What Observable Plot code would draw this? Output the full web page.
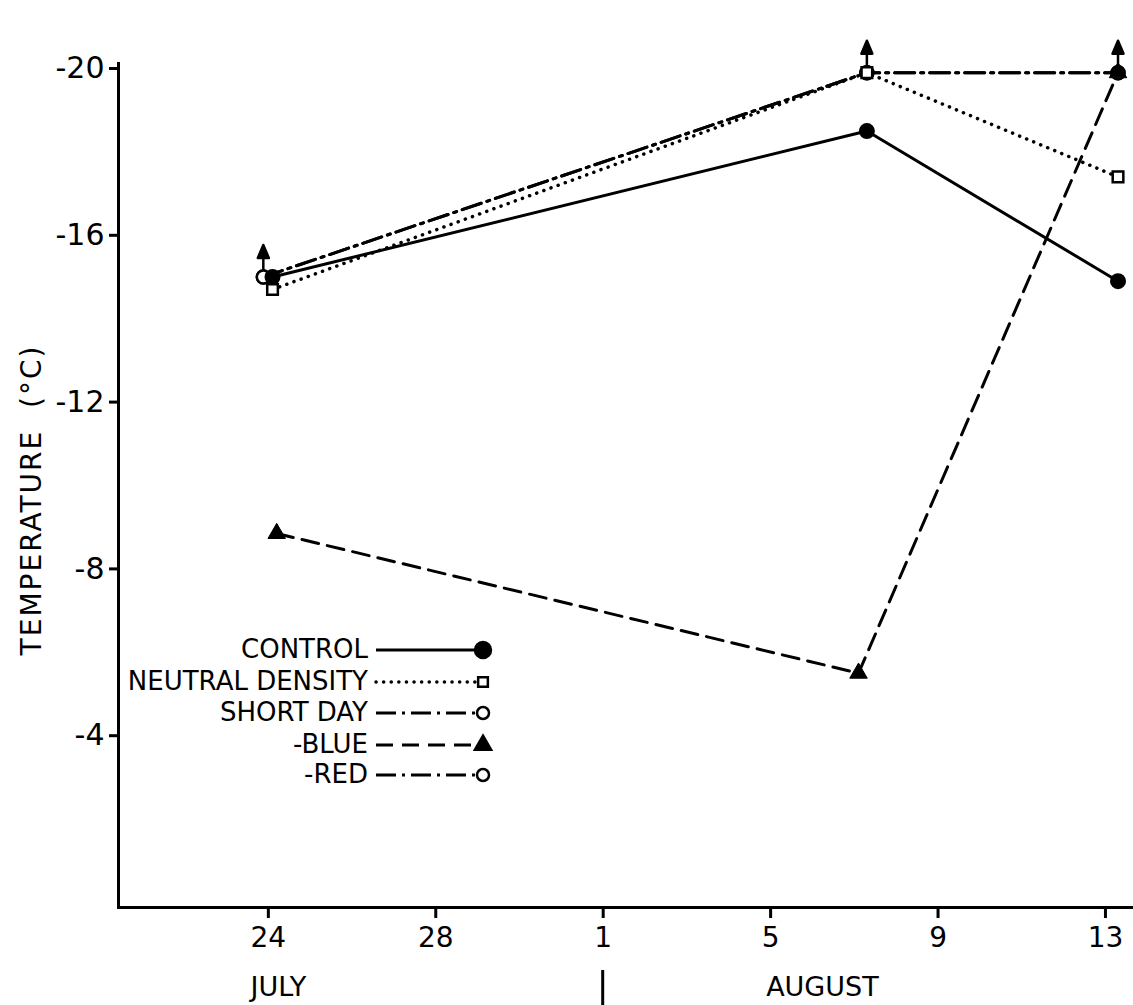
<!DOCTYPE html>
<html><head><meta charset="utf-8">
<script src="https://cdn.jsdelivr.net/npm/d3@7"></script>
<script src="https://cdn.jsdelivr.net/npm/@observablehq/plot@0.6"></script>
<style>body{margin:0;background:#fff}svg{display:block}</style>
</head><body><div id="chart"></div>
<script>
// Days counted from 24 July (0) ; temperatures in °C
const seriesNames = ["CONTROL", "NEUTRAL DENSITY", "SHORT DAY", "-BLUE", "-RED"];
const controlDays = [0.1, 14.3, 20.3];
const controlTemps = [-15.0, -18.5, -14.9];
const neutralDays = [0.1, 14.3, 20.3];
const neutralTemps = [-14.7, -19.9, -17.4];
const shortDayDays = [-0.12, 14.3, 20.3];
const shortDayTemps = [-15.0, -19.9, -19.9];
const blueDays = [0.2, 14.1, 20.3];
const blueTemps = [-8.85, -5.5, -19.9];
const redDays = [-0.12, 14.3, 20.3];
const redTemps = [-15.0, -19.9, -19.9];
// "colder than" arrows
const arrowDays = [-0.12, 14.3, 20.3];
const arrowTemps = [-15.0, -19.9, -19.9];

const xTickDays = [0, 4, 8, 12, 16, 20];
const xTickLabels = ["24", "28", "1", "5", "9", "13"];
const yTickValues = [-20, -16, -12, -8, -4];
const yTickLabels = ["-20", "-16", "-12", "-8", "-4"];
const monthNames = ["JULY", "AUGUST"];
const monthLabelDays = [0.25, 13.25];
const monthBoundaryDay = 8;

const rows = (xs, ys) => xs.map((x, i) => ({day: x, temp: ys[i]}));
const control = rows(controlDays, controlTemps);
const neutral = rows(neutralDays, neutralTemps);
const shortDay = rows(shortDayDays, shortDayTemps);
const blue = rows(blueDays, blueTemps);
const red = rows(redDays, redTemps);
const arrows = rows(arrowDays, arrowTemps);

const FONT = "'DejaVu Sans', sans-serif";
const DOT = "0.1 7.5";
const DASHDOT = "20 6 3 6";
const DASH = "17 9";

const arrowShape = {
  draw(context, l) {
    context.moveTo(0, 0);
    context.lineTo(0, -l + 10);
    context.moveTo(-5.5, -l + 13);
    context.lineTo(0, -l);
    context.lineTo(5.5, -l + 13);
    context.closePath();
  }
};

const plot = Plot.plot({
  width: 1133,
  height: 1005,
  marginLeft: 118,
  marginRight: 0,
  marginTop: 63,
  marginBottom: 98,
  style: {fontFamily: FONT, color: "black", background: "white", overflow: "visible"},
  x: {domain: [-3.58, 20.67]},
  y: {domain: [0.12, -20.12]},
  marks: [
    Plot.frame({anchor: "left", strokeWidth: 3}),
    Plot.frame({anchor: "bottom", strokeWidth: 3}),
    Plot.axisX({ticks: xTickDays, tickFormat: d => xTickLabels[xTickDays.indexOf(d)],
      tickSize: 11, tickPadding: 9, fontSize: 28, strokeWidth: 3, label: null}),
    Plot.axisY({ticks: yTickValues, tickFormat: d => yTickLabels[yTickValues.indexOf(d)],
      tickSize: 9, tickPadding: 5, fontSize: 30, strokeWidth: 3, label: null}),
    Plot.line(control, {x: "day", y: "temp", stroke: "black", strokeWidth: 3}),
    Plot.line(neutral, {x: "day", y: "temp", stroke: "black", strokeWidth: 3.5, strokeDasharray: DOT, strokeLinecap: "round"}),
    Plot.line(shortDay, {x: "day", y: "temp", stroke: "black", strokeWidth: 3, strokeDasharray: DASHDOT}),
    Plot.line(red, {x: "day", y: "temp", stroke: "black", strokeWidth: 3, strokeDasharray: DASHDOT}),
    Plot.line(blue, {x: "day", y: "temp", stroke: "black", strokeWidth: 3, strokeDasharray: DASH}),
    Plot.vector(arrows, {x: "day", y: "temp", length: 32, rotate: 0, anchor: "start", shape: arrowShape,
      stroke: "black", fill: "black", strokeWidth: 2.5}),
    Plot.dot(shortDay, {x: "day", y: "temp", r: 6.5, fill: "white", stroke: "black", strokeWidth: 2.5}),
    Plot.dot(red, {x: "day", y: "temp", r: 6.5, fill: "white", stroke: "black", strokeWidth: 2.5}),
    Plot.dot(neutral, {x: "day", y: "temp", symbol: "square", r: 6, fill: "white", stroke: "black", strokeWidth: 2.5}),
    Plot.dot(blue, {x: "day", y: "temp", symbol: "triangle", r: 6.5, fill: "black", stroke: "black", strokeWidth: 1}),
    Plot.dot(control, {x: "day", y: "temp", r: 8, fill: "black"})
  ]
});

const svg = d3.select(plot);
const xs = plot.scale("x");

// y-axis title
svg.append("text")
  .attr("transform", "translate(33,500) rotate(-90)")
  .attr("text-anchor", "middle")
  .attr("dominant-baseline", "middle")
  .attr("font-size", 28)
  .attr("letter-spacing", 2)
  .attr("font-family", FONT)
  .attr("fill", "black")
  .text("TEMPERATURE\u00a0\u00a0(°C)");

// month labels and boundary bar
monthNames.forEach((m, i) => {
  svg.append("text")
    .attr("x", xs.apply(monthLabelDays[i]))
    .attr("y", 988)
    .attr("text-anchor", "middle")
    .attr("dominant-baseline", "middle")
    .attr("font-size", 27)
    .attr("font-family", FONT)
    .attr("fill", "black")
    .text(m);
});
svg.append("line")
  .attr("x1", xs.apply(monthBoundaryDay)).attr("x2", xs.apply(monthBoundaryDay))
  .attr("y1", 970).attr("y2", 1005)
  .attr("stroke", "black").attr("stroke-width", 3);

// legend
const legendStyles = [
  {dash: null, cap: "butt", width: 3, symbol: d3.symbolCircle, size: Math.PI * 64, fill: "black"},
  {dash: DOT, cap: "round", width: 3.5, symbol: d3.symbolSquare, size: Math.PI * 30, fill: "white"},
  {dash: DASHDOT, cap: "butt", width: 3, symbol: d3.symbolCircle, size: Math.PI * 36, fill: "white"},
  {dash: DASH, cap: "butt", width: 3, symbol: d3.symbolTriangle, size: Math.PI * 36, fill: "black"},
  {dash: DASHDOT, cap: "butt", width: 3, symbol: d3.symbolCircle, size: Math.PI * 36, fill: "white"}
];
const legendRowY = [650, 682, 713, 745, 775];
const lg = svg.append("g").attr("font-family", FONT).attr("font-size", 26);
seriesNames.forEach((name, i) => {
  const s = legendStyles[i], y = legendRowY[i];
  lg.append("text").attr("x", 368).attr("y", y).attr("text-anchor", "end")
    .attr("dominant-baseline", "middle").attr("fill", "black").text(name);
  lg.append("line").attr("x1", 376).attr("x2", 478).attr("y1", y).attr("y2", y)
    .attr("stroke", "black").attr("stroke-width", s.width)
    .attr("stroke-dasharray", s.dash).attr("stroke-linecap", s.cap);
  lg.append("path").attr("transform", `translate(483,${y})`)
    .attr("d", d3.symbol(s.symbol, s.size)())
    .attr("fill", s.fill).attr("stroke", "black").attr("stroke-width", 2.5);
});

document.getElementById("chart").appendChild(plot);
</script>
</body></html>
